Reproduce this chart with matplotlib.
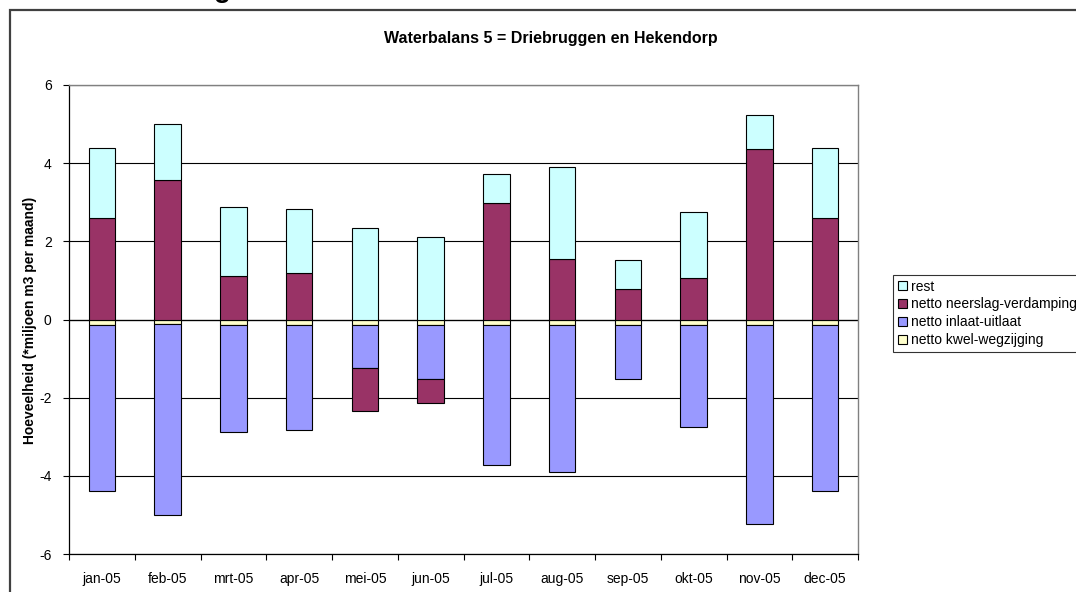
import matplotlib
matplotlib.use("Agg")
import matplotlib.pyplot as plt
import numpy as np
from matplotlib.patches import Rectangle

plt.rcParams['font.family'] = ['Liberation Sans', 'DejaVu Sans']

months = ['jan-05', 'feb-05', 'mrt-05', 'apr-05', 'mei-05', 'jun-05',
          'jul-05', 'aug-05', 'sep-05', 'okt-05', 'nov-05', 'dec-05']
kwel = [-0.15, -0.11, -0.15, -0.15, -0.15, -0.15, -0.15, -0.15, -0.15, -0.15, -0.15, -0.15]
inlaat = [-4.23, -4.88, -2.74, -2.68, -1.10, -1.37, -3.57, -3.75, -1.37, -2.60, -5.08, -4.25]
neerslag = [2.60, 3.57, 1.11, 1.19, -1.09, -0.62, 2.98, 1.55, 0.78, 1.06, 4.36, 2.60]
rest = [1.78, 1.42, 1.78, 1.64, 2.34, 2.12, 0.74, 2.35, 0.74, 1.69, 0.87, 1.80]

series = [
    ('netto kwel-wegzijging', kwel, '#FFFFCC'),
    ('netto inlaat-uitlaat', inlaat, '#9999FF'),
    ('netto neerslag-verdamping', neerslag, '#993366'),
    ('rest', rest, '#CCFFFF'),
]

fig = plt.figure(figsize=(10.76, 5.92), dpi=100)
W, H = 1076, 592

# chart-area border
fig.patches.append(Rectangle((10 / W, -0.1), 1.2, (592 - 10) / H + 0.1,
                             transform=fig.transFigure, fill=False,
                             edgecolor='#404040', linewidth=1.6))
# partially visible heading above the chart
fig.text(214 / W, 1 + 3 / H, 'g', fontsize=20, fontweight='bold',
         ha='left', va='baseline')

ax = fig.add_axes([69 / W, 1 - 554 / H, (858 - 69) / W, (554 - 85) / H])
x = np.arange(len(months))
pos_bottom = np.zeros(len(months))
neg_bottom = np.zeros(len(months))
handles = []
for name, vals, color in series:
    vals = np.array(vals)
    bottoms = np.where(vals >= 0, pos_bottom, neg_bottom)
    b = ax.bar(x, vals, width=0.4, bottom=bottoms, color=color,
               edgecolor='black', linewidth=0.8, label=name, zorder=3)
    handles.append(b)
    pos_bottom = pos_bottom + np.where(vals >= 0, vals, 0)
    neg_bottom = neg_bottom + np.where(vals < 0, vals, 0)

ax.set_xlim(-0.5, len(months) - 0.5)
ax.set_ylim(-6, 6)
ax.set_yticks(np.arange(-6, 7, 2))
ax.set_yticklabels([str(v) for v in range(-6, 7, 2)], fontsize=10)
ax.yaxis.grid(True, color='black', linewidth=0.8, zorder=0)
ax.axhline(0, color='black', linewidth=0.9, zorder=2)
ax.set_xticks(x)
ax.set_xticklabels(months, fontsize=10)
ax.set_xticks(np.arange(-0.5, len(months), 1), minor=True)
ax.tick_params(axis='x', which='major', length=0, pad=13)
ax.tick_params(axis='x', which='minor', length=4.5, width=0.8, direction='out')
ax.tick_params(axis='y', length=4.5, width=0.8, direction='out', pad=8)
for s in ['top', 'right']:
    ax.spines[s].set_color('#808080')
    ax.spines[s].set_linewidth(1.0)
for s in ['left', 'bottom']:
    ax.spines[s].set_color('black')
    ax.spines[s].set_linewidth(0.9)

ax.set_ylabel('Hoeveelheid (*miljoen m3 per maand)', fontsize=10,
              fontweight='bold', va='center')
ax.yaxis.set_label_coords((30 - 69) / (858 - 69), (554 - 320) / (554 - 85))
fig.text(551 / W, 1 - 38 / H, 'Waterbalans 5 = Driebruggen en Hekendorp',
         fontsize=11.5, fontweight='bold', ha='center', va='center')

leg = fig.legend(handles[::-1], [s[0] for s in series][::-1],
                 loc='upper left', bbox_to_anchor=(893 / W, 1 - 275 / H),
                 fontsize=10, frameon=True, fancybox=False, handlelength=0.65,
                 handleheight=0.65, handletextpad=0.35, labelspacing=0.28,
                 borderpad=0.33, borderaxespad=0)
leg.get_frame().set_edgecolor('black')
leg.get_frame().set_linewidth(0.8)

fig.savefig('out.png', dpi=100)
